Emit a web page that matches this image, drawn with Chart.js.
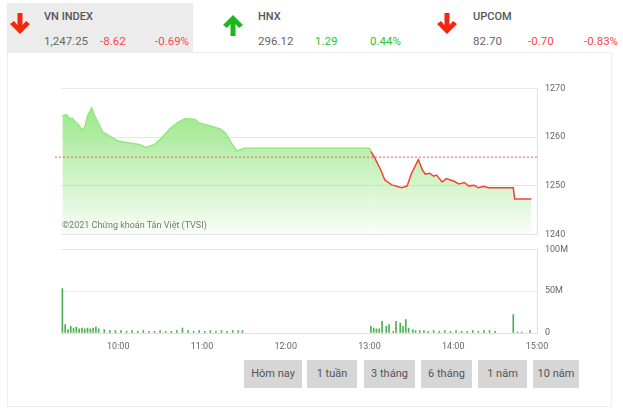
<!DOCTYPE html><html><head><meta charset="utf-8">
<script src="https://cdn.jsdelivr.net/npm/chart.js@4"></script>
<style>
body{margin:0;width:623px;height:419px;background:#fff;font-family:Roboto,"Noto Sans",sans-serif;position:relative;overflow:hidden}
.box{position:absolute;top:3px;height:49px}
.t{position:absolute;top:10px;font-size:11px;color:#555;font-weight:500}
.v{position:absolute;top:34px;font-size:11.5px;color:#666}
.btn{position:absolute;top:360px;height:28px;background:#d6d6d6;color:#555;font-size:11px;line-height:28px;text-align:center}
#panel{position:absolute;left:7px;top:52px;width:603px;height:353px;border:1px solid #eee}
#wm{position:absolute;left:62px;top:220px;font-size:9px;color:#777}
</style></head><body>
<div class="box" style="left:7px;width:186px;background:#ececec"></div>
<div id="panel"></div>
<svg style="position:absolute;left:9px;top:12px" width="22" height="24"><path d="M11 22 L1 12 L5 9 L8.5 13 L8.5 1 L13.5 1 L13.5 13 L17 9 L21 12 Z" fill="#f4260d"/></svg>
<svg style="position:absolute;left:222px;top:14px" width="22" height="24"><path d="M11 1 L1 11 L5 14 L8.5 10 L8.5 22 L13.5 22 L13.5 10 L17 14 L21 11 Z" fill="#1bb81b"/></svg>
<svg style="position:absolute;left:436px;top:12px" width="22" height="24"><path d="M11 22 L1 12 L5 9 L8.5 13 L8.5 1 L13.5 1 L13.5 13 L17 9 L21 12 Z" fill="#f4260d"/></svg>
<div class="t" style="left:44px">VN INDEX</div>
<div class="v" style="left:44px">1,247.25</div><div class="v" style="left:100px;color:#f44">-8.62</div><div class="v" style="left:155px;color:#f44">-0.69%</div>
<div class="t" style="left:258px">HNX</div>
<div class="v" style="left:258px">296.12</div><div class="v" style="left:315px;color:#2bc62b">1.29</div><div class="v" style="left:370px;color:#2bc62b">0.44%</div>
<div class="t" style="left:473px">UPCOM</div>
<div class="v" style="left:473px">82.70</div><div class="v" style="left:528px;color:#f44">-0.70</div><div class="v" style="left:584px;color:#f44">-0.83%</div>
<div style="position:absolute;left:0;top:75px;width:600px;height:173px"><canvas id="c1"></canvas></div>
<div style="position:absolute;left:0;top:236px;width:600px;height:114px"><canvas id="c2"></canvas></div>
<div id="wm">©2021 Chứng khoán Tân Việt (TVSI)</div>
<div class="btn" style="left:244px;width:58px">Hôm nay</div>
<div class="btn" style="left:307px;width:50px">1 tuần</div>
<div class="btn" style="left:364px;width:51px">3 tháng</div>
<div class="btn" style="left:421px;width:51px">6 tháng</div>
<div class="btn" style="left:478px;width:49px">1 năm</div>
<div class="btn" style="left:533px;width:46px">10 năm</div>
<script>
const refPrice=1255.9;
const priceTimes=[560,563,565,567,570,572,574,576,578,581,583,585,589,594,600,604,608,615,620,626,631,637,643,648,655,658,665,673,677,681,685,689,690,780,781,784,788,791,796,803,807,810,815,818,820,823,826,828,832,835,838,841,844,848,851,855,858,862,865,870,875,883,884,896];
const priceValues=[1264.4,1264.6,1263.8,1263.9,1262.9,1262.4,1261.5,1262.0,1264.4,1266.0,1264.5,1263.3,1261.0,1260.2,1259.2,1259.0,1258.8,1258.5,1257.9,1258.5,1259.8,1261.7,1263.1,1263.8,1263.6,1262.9,1262.4,1261.7,1260.8,1258.8,1257.1,1257.6,1257.7,1257.7,1257.1,1255.6,1253.3,1251.2,1250.2,1249.6,1250.0,1252.5,1255.4,1253.2,1252.4,1252.6,1252.0,1252.2,1250.8,1251.5,1251.2,1250.9,1250.4,1250.7,1250.0,1250.1,1249.6,1249.9,1249.6,1249.6,1249.6,1249.6,1247.3,1247.3];
const volTimes=[560,562,564,566,568,570,572,574,576,578,580,582,584,586,590,594,598,602,606,610,614,618,622,626,630,634,638,642,646,650,654,658,662,666,670,674,678,682,686,689,781,783,785,787,789,792,794,797,799,802,804,806,808,811,813,816,819,822,826,830,834,838,842,846,850,854,858,862,866,870,883,886,889,895];
const volValues=[53,10,4,8,6,7,5,6,5,6,5,6,7,5,4,3,3,3,2,3,2,3,2,2,3,2,2,3,6,3,2,3,2,3,2,3,2,3,3,3,8,6,5,5,14,8,10,2,14,12,8,16,6,4,3,3,3,2,3,2,3,2,3,2,2,3,2,3,3,2,22,1,1,3];
const xTicks=[600,660,720,780,840,900];
const fmt=v=>String(Math.floor(v/60)).padStart(2,'0')+':'+String(v%60).padStart(2,'0');
const tickFont={size:9,family:'Roboto'};
const refLine={id:'ref',afterDatasetsDraw(c){const y=c.scales.y.getPixelForValue(refPrice),a=c.chartArea,x=c.ctx;x.save();x.strokeStyle='#f55';x.setLineDash([2,2]);x.lineWidth=1;x.beginPath();x.moveTo(a.left-6,y);x.lineTo(a.right,y);x.stroke();x.restore();}};
new Chart(document.getElementById('c1'),{type:'line',
data:{datasets:[{data:priceTimes.map((t,i)=>({x:t,y:priceValues[i]})),pointRadius:0,borderWidth:1.5,tension:0,fill:'start',
segment:{borderColor:s=>(s.p0.parsed.y<refPrice-0.1||s.p1.parsed.y<refPrice-0.1)?'#f44336':'rgba(150,230,130,1)'},
backgroundColor:c=>{const a=c.chart.chartArea;if(!a)return'rgba(150,230,130,.6)';const g=c.chart.ctx.createLinearGradient(0,a.top,0,a.bottom);g.addColorStop(0,'rgba(140,228,120,1)');g.addColorStop(1,'rgba(140,228,120,0.05)');return g;}}]},
options:{animation:false,responsive:true,maintainAspectRatio:false,layout:{padding:{left:61,top:3,bottom:0}},plugins:{legend:{display:false},tooltip:{enabled:false}},
scales:{x:{type:'linear',min:559,max:900,display:false},
y:{position:'right',min:1240,max:1270,ticks:{stepSize:10,callback:v=>String(v),color:'#666',font:tickFont,padding:8},grid:{color:'#e8e8e8',drawTicks:false},border:{color:'#e0e0e0'},afterFit(s){s.width=63;}}}},plugins:[refLine]});
new Chart(document.getElementById('c2'),{type:'bar',
data:{datasets:[{data:volTimes.map((t,i)=>({x:t,y:volValues[i]})),backgroundColor:'#4caf50',barThickness:1}]},
options:{animation:false,responsive:true,maintainAspectRatio:false,layout:{padding:{left:61,top:0}},plugins:{legend:{display:false},tooltip:{enabled:false}},
scales:{x:{type:'linear',offset:false,min:559,max:900,afterBuildTicks(s){s.ticks=xTicks.map(v=>({value:v}));},ticks:{callback:v=>fmt(v),color:'#666',font:tickFont,maxRotation:0,padding:0},grid:{display:false,drawOnChartArea:false,offset:false},border:{color:'#e0e0e0'},afterFit(s){s.height=17;}},
y:{position:'right',min:0,max:100,ticks:{stepSize:50,callback:v=>v?v+'M':'0',color:'#666',font:tickFont,padding:8},grid:{color:'#e8e8e8',drawTicks:false},border:{color:'#e0e0e0'},afterFit(s){s.width=63;}}}}});
</script></body></html>
